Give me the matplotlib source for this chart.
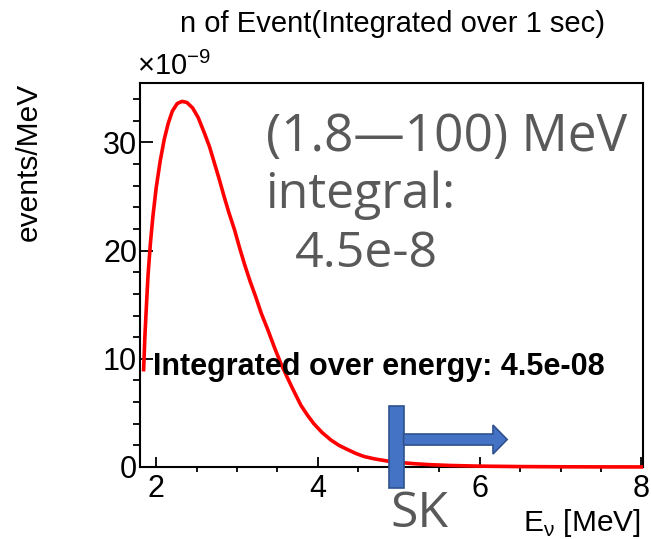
import numpy as np
import matplotlib
matplotlib.use("Agg")
import matplotlib.pyplot as plt
from matplotlib.patches import Rectangle, FancyArrow

plt.rcParams['font.family'] = ['Liberation Sans', 'DejaVu Sans']
plt.rcParams['mathtext.fontset'] = 'custom'
plt.rcParams['mathtext.rm'] = 'Liberation Sans'

# spectrum: neutrino energy (MeV) vs events/MeV (in units of 1e-9)
energy = [1.845, 1.86, 1.88, 1.90, 1.93, 1.96, 2.00, 2.05, 2.10, 2.15, 2.20, 2.26,
          2.32, 2.38, 2.45, 2.52, 2.60, 2.66, 2.72, 2.78, 2.84, 2.90, 2.97, 3.03,
          3.09, 3.16, 3.23, 3.30, 3.38, 3.46, 3.54, 3.62, 3.69, 3.79, 3.87, 3.95,
          4.05, 4.16, 4.26, 4.37, 4.47, 4.57, 4.70, 4.86, 5.00, 5.20, 5.40, 5.64,
          6.00, 6.50, 7.00, 7.50, 8.00]
events = [9.0, 12.0, 15.0, 17.8, 20.8, 23.2, 25.8, 28.3, 30.3, 31.8, 32.9, 33.6,
          33.8, 33.7, 33.2, 32.3, 30.8, 29.6, 28.1, 26.6, 25.0, 23.5, 21.9, 20.3,
          18.8, 17.2, 15.75, 14.2, 12.7, 11.1, 9.6, 8.3, 7.2, 5.7, 4.8, 4.0,
          3.2, 2.5, 2.0, 1.6, 1.25, 0.97, 0.75, 0.55, 0.42, 0.3, 0.21, 0.14,
          0.08, 0.04, 0.02, 0.01, 0.005]

x_ticks = [2, 4, 6, 8]
y_ticks = [0, 10, 20, 30]
sk_threshold = 4.97

W, H = 651, 539


def px(x, y):
    return x / W, 1 - y / H


fig = plt.figure(figsize=(W / 100, H / 100), dpi=100)
ax = fig.add_axes([140 / W, 1 - 467 / H, 503 / W, 384 / H])

ax.plot(energy, events, color='red', lw=2.6, zorder=3, clip_on=False,
        solid_joinstyle='round')

ax.set_xlim(1.8, 8.02)
ax.set_ylim(0, 35.5)
ax.set_xticks(x_ticks)
ax.set_yticks(y_ticks)
ax.set_xticks(np.arange(2.5, 8, 0.5), minor=True)
ax.set_yticks(np.arange(2, 35, 2), minor=True)
ax.tick_params(axis='both', direction='in', labelsize=22, width=1.3, colors='black')
ax.tick_params(axis='x', which='major', length=7.5, pad=5)
ax.tick_params(axis='x', which='minor', length=3.5, width=1.3)
ax.tick_params(axis='y', which='major', length=9.5, pad=2)
ax.tick_params(axis='y', which='minor', length=5, width=1.3)
for sp in ax.spines.values():
    sp.set_linewidth(1.5)

# SK threshold marker
bar = Rectangle((sk_threshold - 0.09, -1.94), 0.18, 7.58, facecolor='#4472C4',
                edgecolor='#2F528F', lw=1.2, clip_on=False, zorder=5)
ax.add_patch(bar)
arrow = FancyArrow(sk_threshold + 0.09, 2.54, 1.28, 0, width=1.02, head_width=2.68,
                   head_length=0.175, length_includes_head=True, facecolor='#4472C4',
                   edgecolor='#2F528F', lw=1.2, clip_on=False, zorder=5)
ax.add_patch(arrow)

fig.text(*px(392, 32), "n of Event(Integrated over 1 sec)", fontsize=21,
         ha='center', va='baseline')
fig.text(*px(137, 75), r"$\mathregular{\times10^{-9}}$", fontsize=21,
         ha='left', va='baseline')
fig.text(*px(29, 83), "events/MeV", fontsize=21.5, rotation=90,
         ha='center', va='top')
fig.text(*px(641, 531), r"E$_\mathregular{ν}$ [MeV]", fontsize=21.5,
         ha='right', va='baseline')

fig.text(*px(153, 375), "Integrated over energy: 4.5e-08", fontsize=22,
         fontweight='bold', ha='left', va='baseline')

gray = '#595959'
fig.text(*px(266, 151), "(1.8\u2014100) MeV", fontsize=37, color=gray,
         family='Open Sans', ha='left', va='baseline')
fig.text(*px(265, 208), "integral:", fontsize=36, color=gray,
         family='Open Sans', ha='left', va='baseline')
fig.text(*px(295, 267), "4.5e-8", fontsize=36, color=gray,
         family='Open Sans', ha='left', va='baseline')
fig.text(*px(390, 527), "SK", fontsize=36, color=gray,
         family='Open Sans', ha='left', va='baseline')

fig.savefig("out.png", dpi=100)
